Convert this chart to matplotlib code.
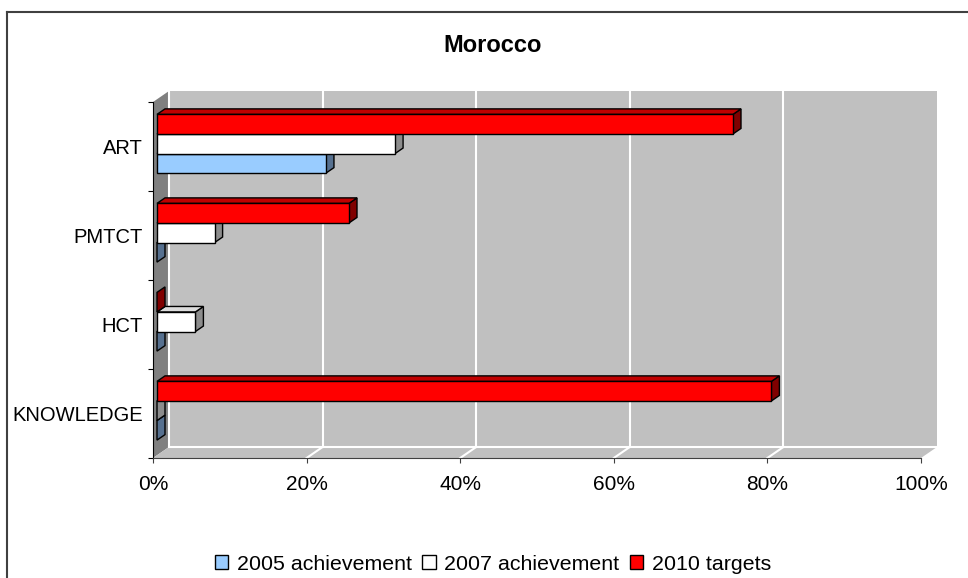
import matplotlib
matplotlib.use("Agg")
import matplotlib.pyplot as plt
from matplotlib.patches import Polygon, Patch
from matplotlib.lines import Line2D

categories = ["ART", "PMTCT", "HCT", "KNOWLEDGE"]
series = ["2005 achievement", "2007 achievement", "2010 targets"]
ach_2005 = [22, 0, 0, 0]
ach_2007 = [31, 7.5, 5, 0]
targets_2010 = [75, 25, 0, 80]
xticks = [0, 20, 40, 60, 80, 100]
xlabels = ["0%", "20%", "40%", "60%", "80%", "100%"]

front_col = ["#99ccff", "#ffffff", "#ff0000"]
top_col = ["#7aa3cc", "#dcdcdc", "#c00000"]
side_col = ["#56708f", "#8c8c8c", "#800000"]

plt.rcParams['font.family'] = ['Liberation Sans', 'DejaVu Sans']

W, H = 968, 578
fig = plt.figure(figsize=(W / 100, H / 100), dpi=100)
ax = fig.add_axes([153 / W, 1 - 458 / H, 768 / W, 356 / H])
ax.set_xlim(0, 100)
ax.set_ylim(-0.5, 3.5)
ax.patch.set_visible(False)

# depth of the 3d box in data units (about 16px right, 11px up)
dx = 16 / 7.68
dy = 11 / 89.0

# walls and floor
ax.add_patch(Polygon([(dx, -0.5 + dy), (100 + dx, -0.5 + dy), (100 + dx, 3.5 + dy), (dx, 3.5 + dy)],
                     fc="#c0c0c0", ec="none", clip_on=False, zorder=0.5))
ax.add_patch(Polygon([(0, -0.5), (dx, -0.5 + dy), (dx, 3.5 + dy), (0, 3.5)],
                     fc="#808080", ec="none", clip_on=False, zorder=0.5))
ax.add_patch(Polygon([(0, -0.5), (100, -0.5), (100 + dx, -0.5 + dy), (dx, -0.5 + dy)],
                     fc="#c0c0c0", ec="none", clip_on=False, zorder=0.5))
for t in xticks[:-1]:
    ax.plot([t + dx, t + dx], [-0.5 + dy, 3.5 + dy], color="white", lw=1.5, clip_on=False, zorder=0.8)
for t in xticks[1:-1]:
    ax.plot([t, t + dx], [-0.5, -0.5 + dy], color="white", lw=1.5, clip_on=False, zorder=0.8)
ax.plot([dx, 100 + dx], [-0.5 + dy, -0.5 + dy], color="white", lw=1.5, clip_on=False, zorder=0.8)

# bars
h = 0.22
offsets = [-h, 0, h]
fx, fy = 0.25 * dx, 0.25 * dy
bx, by = 0.5 * dx, 0.5 * dy
z = 2
for i, cat in enumerate(categories):
    pos = len(categories) - 1 - i
    for j, vals in enumerate([ach_2005, ach_2007, targets_2010]):
        v = vals[i]
        yc = pos + offsets[j] + fy
        y0, y1 = yc - h / 2, yc + h / 2
        x0, x1 = fx, fx + v
        ax.add_patch(Polygon([(x1, y0), (x1 + bx, y0 + by), (x1 + bx, y1 + by), (x1, y1)],
                             fc=side_col[j], ec="black", lw=1, clip_on=False, zorder=z))
        if v > 0:
            ax.add_patch(Polygon([(x0, y1), (x1, y1), (x1 + bx, y1 + by), (x0 + bx, y1 + by)],
                                 fc=top_col[j], ec="black", lw=1, clip_on=False, zorder=z))
            ax.barh(yc, v, height=h, left=x0, color=front_col[j], edgecolor="black", lw=1, zorder=z + 0.5)
        z += 1

# axes
for s in ["top", "right"]:
    ax.spines[s].set_visible(False)
ax.spines["left"].set_color("black")
ax.spines["bottom"].set_color("#404040")
ax.set_xticks(xticks, xlabels)
ax.tick_params(axis="x", length=3.6, color="#404040", labelsize=15, pad=9)
ax.set_yticks([-0.5, 0.5, 1.5, 2.5, 3.5], [""] * 5)
ax.set_yticks([3, 2, 1, 0], categories, minor=True)
ax.tick_params(axis="y", which="major", length=3.6, color="black")
ax.tick_params(axis="y", which="minor", length=0, labelsize=14.5, pad=7.2)

fig.text(493 / W, 1 - 45 / H, "Morocco", ha="center", va="center", fontsize=17, fontweight="bold")

handles = [Patch(fc=front_col[j], ec="black", lw=1) for j in range(3)]
fig.legend(handles, series, loc="center", bbox_to_anchor=(493 / W, 1 - 564 / H), ncol=3,
           frameon=False, fontsize=15.4, handlelength=0.62, handleheight=0.62,
           handletextpad=0.4, columnspacing=0.5)

fig.add_artist(Line2D([7 / W, 7 / W], [0, 1 - 12 / H], color="#404040", lw=1.5, transform=fig.transFigure))
fig.add_artist(Line2D([7 / W, 1], [1 - 12 / H, 1 - 12 / H], color="#404040", lw=1.5, transform=fig.transFigure))

fig.savefig("out.png", dpi=100)
